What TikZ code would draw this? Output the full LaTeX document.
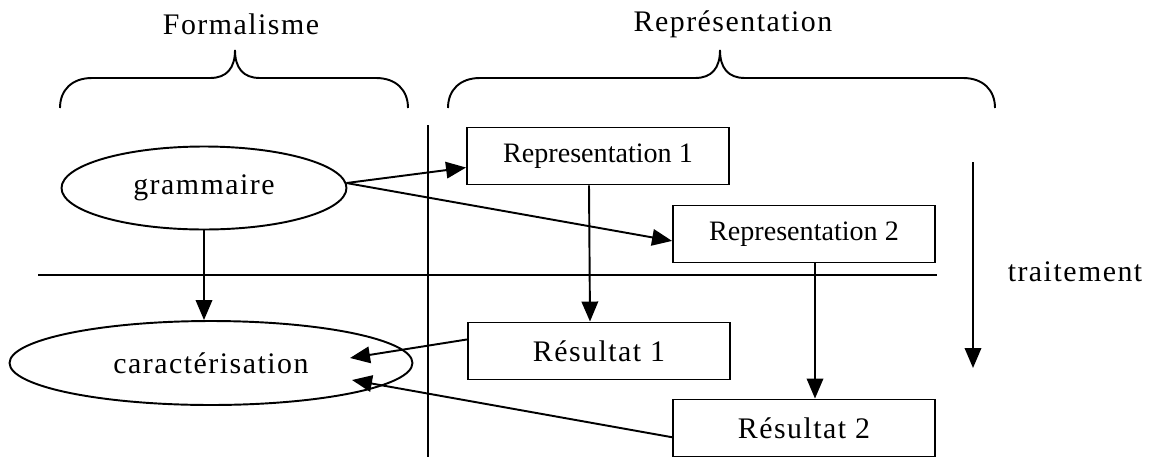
\documentclass[tikz,border=0pt]{standalone}
\usepackage{fontspec}
\setmainfont{Liberation Serif}
\newfontfamily\widefont[LetterSpace=5]{Liberation Serif}
\usetikzlibrary{arrows.meta, shapes.geometric}

\begin{document}
\begin{tikzpicture}[
    x=.02cm, y=-.02cm,
    line width=1.1pt,
    every node/.style={font=\widefont\fontsize{17}{20}\selectfont},
    boite/.style={draw, rectangle, minimum width=5.24cm, minimum height=1.14cm, inner sep=0pt},
    repfont/.style={font=\rmfamily\fontsize{16}{19}\selectfont},
    bulle/.style={draw, ellipse, inner sep=0pt},
    fleche/.style={-{Triangle[length=4mm,width=3.3mm]}},
    separ/.style={line width=.9pt}]

      \useasboundingbox (0,0) rectangle (1153,467);

      \node (form) at (241,24) {Formalisme};
      \node (repr) at (733,24) {Représentation};

      % accolades
      \foreach \a/\m/\b in {60/235/408, 448/720/995}
        \draw (\a,108) .. controls (\a,90) and (\a+12,78) .. (\a+32,78)
          -- (\m-25,78) .. controls (\m-8,78) and (\m,68) .. (\m,50)
          .. controls (\m,68) and (\m+8,78) .. (\m+25,78)
          -- (\b-32,78) .. controls (\b-12,78) and (\b,90) .. (\b,108);

      \draw[separ] (428,125) -- (428,457);
      \draw[separ] (38,275) -- (937,275);

      \node[bulle, minimum width=5.7cm, minimum height=1.66cm] (gram) at (204,188) {grammaire};
      \node[bulle, minimum width=8.06cm, minimum height=1.68cm] (cara) at (211,363) {caractérisation};

      \node[boite, repfont] (rep1) at (598,156) {Representation 1};
      \node[boite, repfont] (rep2) at (804,234) {Representation 2};
      \node[boite] (res1) at (599,351) {Résultat 1};
      \node[boite] (res2) at (804,428) {Résultat 2};

      \node (trait) at (1075,272) {traitement};

      \coordinate (c1) at (350,358);
      \coordinate (c2) at (352,380);
      \coordinate (t0) at (973,162);
      \coordinate (t1) at (973,368);

      \draw[fleche] (gram.2) -- (rep1.185);
      \draw[fleche] (gram.2) -- (rep2.183);
      \draw[fleche] (gram.south) -- (gram.south |- cara.north);
      \draw[fleche] ([xshift=-.18cm]rep1.south) -- ([xshift=-.18cm]res1.north);
      \draw[fleche] ([xshift=.22cm]rep2.south) -- ([xshift=.22cm]res2.north);
      \draw[fleche] (res1.175) -- (c1);
      \draw[fleche] (res2.184) -- (c2);
      \draw[fleche] (t0) -- (t1);

\end{tikzpicture}
\end{document}
